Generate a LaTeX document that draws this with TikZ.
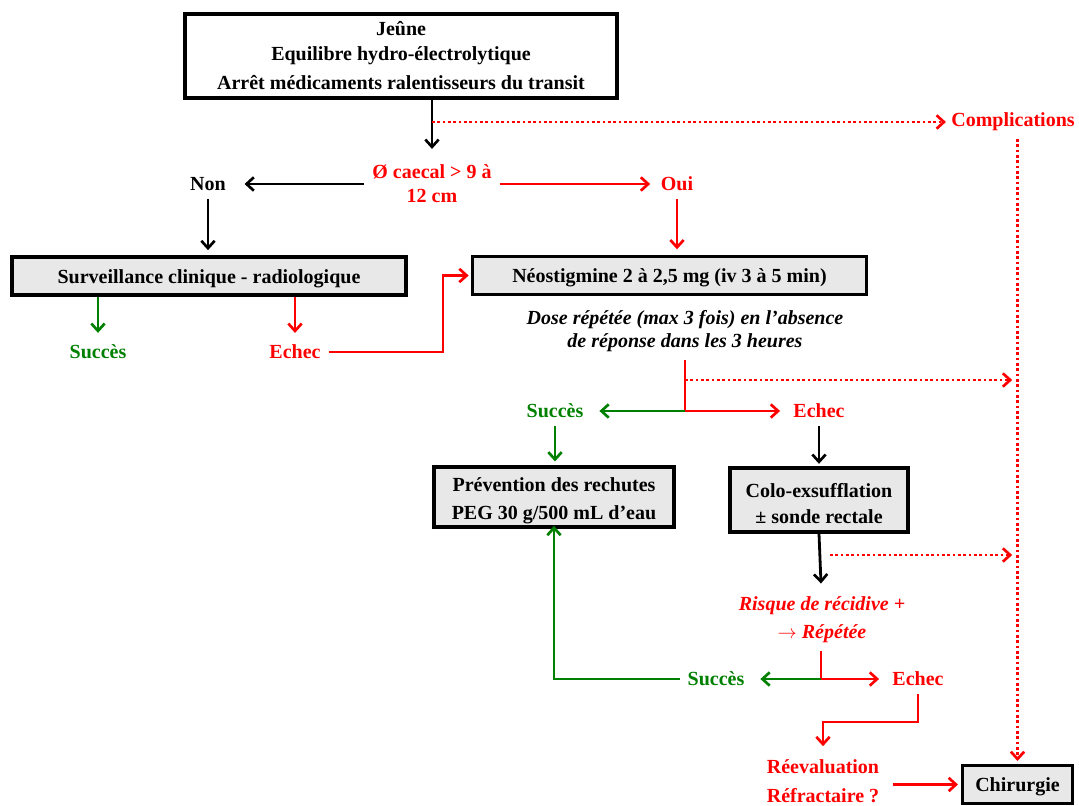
\documentclass[tikz,border=0pt]{standalone}
\usepackage{fontspec}
\setmainfont{Liberation Serif}
\usetikzlibrary{arrows.meta}
\definecolor{okgreen}{RGB}{0,128,0}
\definecolor{boxgrey}{RGB}{232,232,232}
\begin{document}
\begin{tikzpicture}[x=0.75pt, y=-0.75pt, line width=2.1pt, >={Straight Barb[length=5.5pt,width=10pt,line width=2pt]},
    box/.style = {draw, line width=2.3pt, fill=boxgrey, font=\fontsize{15}{18}\selectfont\bfseries, align=center, inner sep=0pt, execute at begin node={\rule{0pt}{14.5pt}}},
    lbl/.style = {font=\fontsize{15}{18}\selectfont\bfseries, align=center, inner sep=5pt},
    note/.style = {font=\fontsize{15}{18}\selectfont\bfseries\itshape, align=center, inner sep=5pt},
    dots/.style = {red, dash pattern=on 2pt off 2pt}]
    \useasboundingbox (0,0) rectangle (1079,806);
    \node[box, fill=white, execute at begin node={}, minimum width=324pt, minimum height=63pt] (top) at (401,56) {Jeûne\\[0.75pt] Equilibre hydro-électrolytique\\[3.75pt] Arrêt médicaments ralentisseurs du transit};
    \node[lbl, red] (compl) at (1013,122) {Complications};
    \node[lbl, red] (caecal) at (432,184) {Ø caecal > 9 à\\[0pt] 12 cm};
    \node[lbl] (non) at (208,184) {Non};
    \node[lbl, red] (oui) at (677,184) {Oui};
    \node[box, minimum width=295.5pt, minimum height=28.5pt] (surv) at (209,276) {Surveillance clinique - radiologique};
    \node[box, minimum width=295pt, minimum height=29pt] (neo) at (669.5,275.5) {Néostigmine 2 à 2,5 mg (iv 3 à 5 min)};
    \node[lbl, okgreen] (succ1) at (98,352) {Succès};
    \node[lbl, red] (echec1) at (295,352) {Echec};
    \node[note] (dose) at (685,331) {Dose répétée (max 3 fois) en l’absence\\[-0.75pt] de réponse dans les 3 heures};
    \node[lbl, okgreen] (succ2) at (555,411) {Succès};
    \node[lbl, red] (echec2) at (819,411) {Echec};
    \node[box, minimum width=180pt, minimum height=45pt] (prev) at (554,497) {\rule{0pt}{16.5pt}Prévention des rechutes\\[3pt] PEG 30 g/500 mL d’eau};
    \node[box, minimum width=133.5pt, minimum height=48pt] (colo) at (819,500) {\rule{0pt}{16.5pt}Colo-exsufflation\\[1.5pt] ± sonde rectale};
    \node[note, red] (risque) at (822,620) {Risque de récidive +\\[3pt] $\rightarrow$ Répétée};
    \node[lbl, okgreen] (succ3) at (716,679) {Succès};
    \node[lbl, red] (echec3) at (918,679) {Echec};
    \node[lbl, red] (reeval) at (823,781) {Réevaluation\\[3.5pt] Réfractaire ?};
    \node[box, minimum width=83pt, minimum height=29pt] (chir) at (1017.5,784.5) {Chirurgie};
    \coordinate (d1) at (432,122);
    \coordinate (d2) at (685,380);
    \coordinate (d3) at (830,555);
    \coordinate (s1) at (685,411);
    \coordinate (s2) at (821,679);
    \coordinate (k1) at (443,352);
    \coordinate (k2) at (918,722);
    \draw[->] (top.south -| caecal) -- ([yshift=6pt]caecal.north);
    \draw[dots, ->] (d1) -- ([xshift=2pt]compl.west);
    \draw[dots, ->] (compl.south -| chir) -- ([yshift=2pt]chir.north);
    \draw[->] (caecal.west) -- ([xshift=8pt]non.east);
    \draw[red, ->] (caecal.east) -- ([xshift=-2pt]oui.west);
    \draw[->] (non.south) -- ([yshift=4pt]surv.north -| non);
    \draw[red, ->] (oui.south) -- ([yshift=4pt]neo.north -| oui);
    \draw[okgreen, ->] (surv.south -| succ1) -- ([yshift=3pt]succ1.north);
    \draw[red, ->] (surv.south -| echec1) -- ([yshift=3pt]echec1.north);
    \draw[red, ->] (echec1.east) -- (k1) |- ([xshift=-2pt]neo.west);
    \draw[red] (dose.south) -- (s1);
    \draw[dots, ->] (d2) -- ([xshift=-4pt]d2 -| chir);
    \draw[okgreen, ->] (s1) -- ([xshift=6pt]succ2.east);
    \draw[red, ->] (s1) -- ([xshift=-4pt]echec2.west);
    \draw[okgreen, ->] (succ2.south) -- ([yshift=3pt]prev.north -| succ2);
    \draw[->] (echec2.south) -- ([yshift=2pt]colo.north);
    \draw[->] (colo.south) -- ([yshift=4pt]risque.north -| s2);
    \draw[dots, ->] (d3) -- ([xshift=-4pt]d3 -| chir);
    \draw[red] (risque.south -| s2) -- (s2);
    \draw[okgreen, ->] (s2) -- ([xshift=6pt]succ3.east);
    \draw[red, ->] (s2) -- ([xshift=-4pt]echec3.west);
    \draw[okgreen, ->] (succ3.west) -| ([yshift=2pt]prev.south);
    \draw[red, ->] (echec3.south) -- (k2) -| ([yshift=4pt]reeval.north);
    \draw[red, ->] ([xshift=4pt]reeval.east |- chir) -- ([xshift=-2pt]chir.west);
\end{tikzpicture}
\end{document}
